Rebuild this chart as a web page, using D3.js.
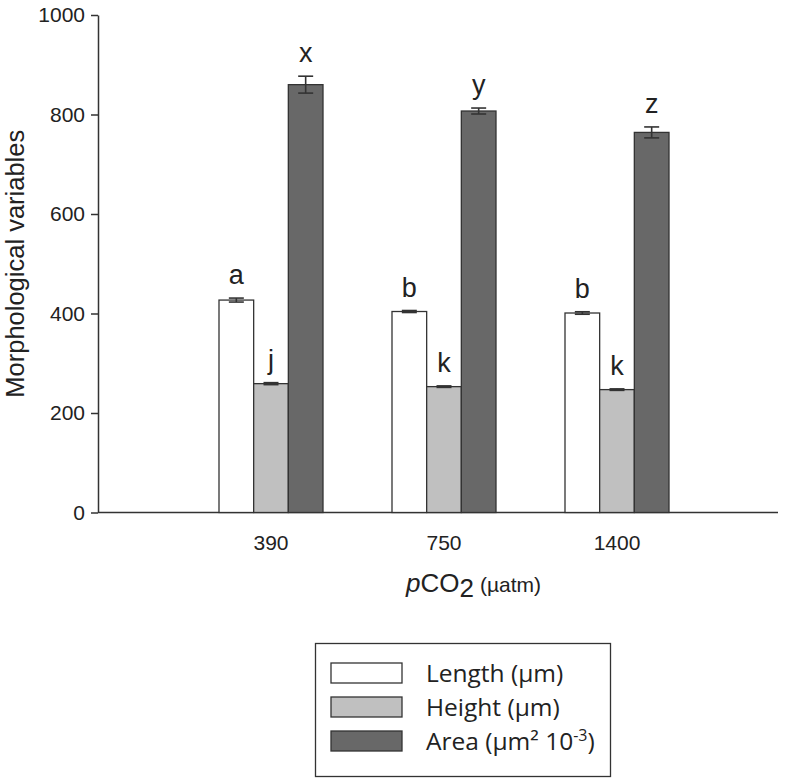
<!DOCTYPE html>
<html>
<head>
<meta charset="utf-8">
<script src="https://cdn.jsdelivr.net/npm/d3@7"></script>
<style>
  html, body { margin: 0; padding: 0; background: #fff; }
  svg { display: block; }
</style>
</head>
<body>
<svg id="chart" width="797" height="784"></svg>
<script>
// ---- data ----
const categories = ["390", "750", "1400"];
const seriesNames = ["Length (µm)", "Height (µm)", "Area (µm² 10⁻³)"];
const lengthValues = [427, 404, 401];
const lengthErrors = [4, 2, 2.5];
const heightValues = [259, 253, 247];
const heightErrors = [2, 1.5, 1.5];
const areaValues = [860, 807, 764];
const areaErrors = [17, 6, 11];
const lengthLetters = ["a", "b", "b"];
const heightLetters = ["j", "k", "k"];
const areaLetters = ["x", "y", "z"];
const yTicks = [0, 200, 400, 600, 800, 1000];

const seriesFills = ["#ffffff", "#c0c0c0", "#686868"];
const ink = "#333333";
const textInk = "#222222";

const series = [
  { name: seriesNames[0], values: lengthValues, errors: lengthErrors, letters: lengthLetters },
  { name: seriesNames[1], values: heightValues, errors: heightErrors, letters: heightLetters },
  { name: seriesNames[2], values: areaValues, errors: areaErrors, letters: areaLetters }
];

const svg = d3.select("#chart");

// ---- scales ----
const axisLeft = 98, axisRight = 778, yTop = 15, yBottom = 512.5;
const step = 173;
const x0 = d3.scaleBand()
  .domain(categories)
  .range([axisLeft + step / 2, axisLeft + step / 2 + step * 3])
  .paddingInner(1 - 104 / 173)
  .paddingOuter((1 - 104 / 173) / 2);
const x1 = d3.scaleBand()
  .domain(d3.range(series.length))
  .range([0, x0.bandwidth()])
  .padding(0);
const y = d3.scaleLinear().domain([0, 1000]).range([yBottom, yTop]);

// ---- y axis ----
const yAxisG = svg.append("g")
  .attr("transform", `translate(${axisLeft},0)`)
  .call(d3.axisLeft(y).tickValues(yTicks).tickFormat(d3.format("d"))
    .tickSize(7).tickPadding(6).tickSizeOuter(0));
yAxisG.select(".domain").attr("stroke", ink).attr("stroke-width", 1.5);
yAxisG.selectAll(".tick line").attr("stroke", ink).attr("stroke-width", 1.5);
yAxisG.selectAll(".tick text")
  .attr("fill", textInk)
  .style("font-family", "'Liberation Sans', Arial, sans-serif")
  .style("font-size", "21px");

// ---- x axis ----
const xAxisG = svg.append("g")
  .attr("transform", `translate(0,${yBottom})`)
  .call(d3.axisBottom(x0).tickSize(0).tickPadding(23).tickSizeOuter(0));
xAxisG.select(".domain")
  .attr("d", `M${axisLeft},0H${axisRight}`)
  .attr("stroke", ink).attr("stroke-width", 1.5);
xAxisG.selectAll(".tick text")
  .attr("fill", textInk)
  .style("font-family", "'Liberation Sans', Arial, sans-serif")
  .style("font-size", "21px");

// ---- bars ----
const groups = svg.append("g").selectAll("g.group")
  .data(categories)
  .join("g")
  .attr("class", "group")
  .attr("transform", d => `translate(${x0(d)},0)`);

groups.each(function(cat, ci) {
  const g = d3.select(this);
  series.forEach((s, si) => {
    const v = s.values[ci], e = s.errors[ci];
    const bx = x1(si), bw = x1.bandwidth();
    g.append("rect")
      .attr("x", bx).attr("y", y(v))
      .attr("width", bw).attr("height", y(0) - y(v))
      .attr("fill", seriesFills[si])
      .attr("stroke", ink).attr("stroke-width", 1.3);
    const cx = bx + bw / 2, cap = 7.5;
    const eg = g.append("g").attr("stroke", ink).attr("stroke-width", 1.6);
    eg.append("line").attr("x1", cx).attr("x2", cx).attr("y1", y(v + e)).attr("y2", y(v - e));
    eg.append("line").attr("x1", cx - cap).attr("x2", cx + cap).attr("y1", y(v + e)).attr("y2", y(v + e));
    eg.append("line").attr("x1", cx - cap).attr("x2", cx + cap).attr("y1", y(v - e)).attr("y2", y(v - e));
    g.append("text")
      .attr("x", cx).attr("y", y(v + e) - 14)
      .attr("text-anchor", "middle")
      .attr("fill", textInk)
      .style("font-family", "'Liberation Sans', Arial, sans-serif")
      .style("font-size", "27px")
      .text(s.letters[ci]);
  });
});

// ---- axis titles ----
svg.append("text")
  .attr("transform", `translate(24,${(yTop + yBottom) / 2}) rotate(-90)`)
  .attr("text-anchor", "middle")
  .attr("fill", textInk)
  .style("font-family", "'Liberation Sans', Arial, sans-serif")
  .style("font-size", "25.5px")
  .text("Morphological variables");

const xt = svg.append("text")
  .attr("x", 406).attr("y", 592)
  .attr("fill", textInk)
  .style("font-family", "'Liberation Sans', Arial, sans-serif")
  .style("font-size", "26px");
xt.append("tspan").style("font-style", "italic").text("p");
xt.append("tspan").text("CO");
xt.append("tspan").attr("dy", 5).text("2");
xt.append("tspan").attr("dy", -5).attr("dx", 6).style("font-size", "21px").text("(µatm)");

// ---- legend ----
const legend = svg.append("g");
legend.append("rect")
  .attr("x", 315.5).attr("y", 643.5).attr("width", 295).attr("height", 133)
  .attr("fill", "none").attr("stroke", ink).attr("stroke-width", 1.3);
series.forEach((s, i) => {
  const ly = 663 + i * 34;
  legend.append("rect")
    .attr("x", 331).attr("y", ly).attr("width", 71).attr("height", 20)
    .attr("fill", seriesFills[i]).attr("stroke", ink).attr("stroke-width", 1.3);
  const t = legend.append("text")
    .attr("x", 426).attr("y", ly + 19)
    .attr("fill", textInk)
    .style("font-family", "'Open Sans', sans-serif")
    .style("font-size", "24.5px");
  if (i < 2) {
    t.text(s.name);
  } else {
    t.append("tspan").text("Area (µm² 10");
    t.append("tspan").attr("dy", -9).style("font-size", "16px").text("-3");
    t.append("tspan").attr("dy", 9).text(")");
  }
});
</script>
</body>
</html>
